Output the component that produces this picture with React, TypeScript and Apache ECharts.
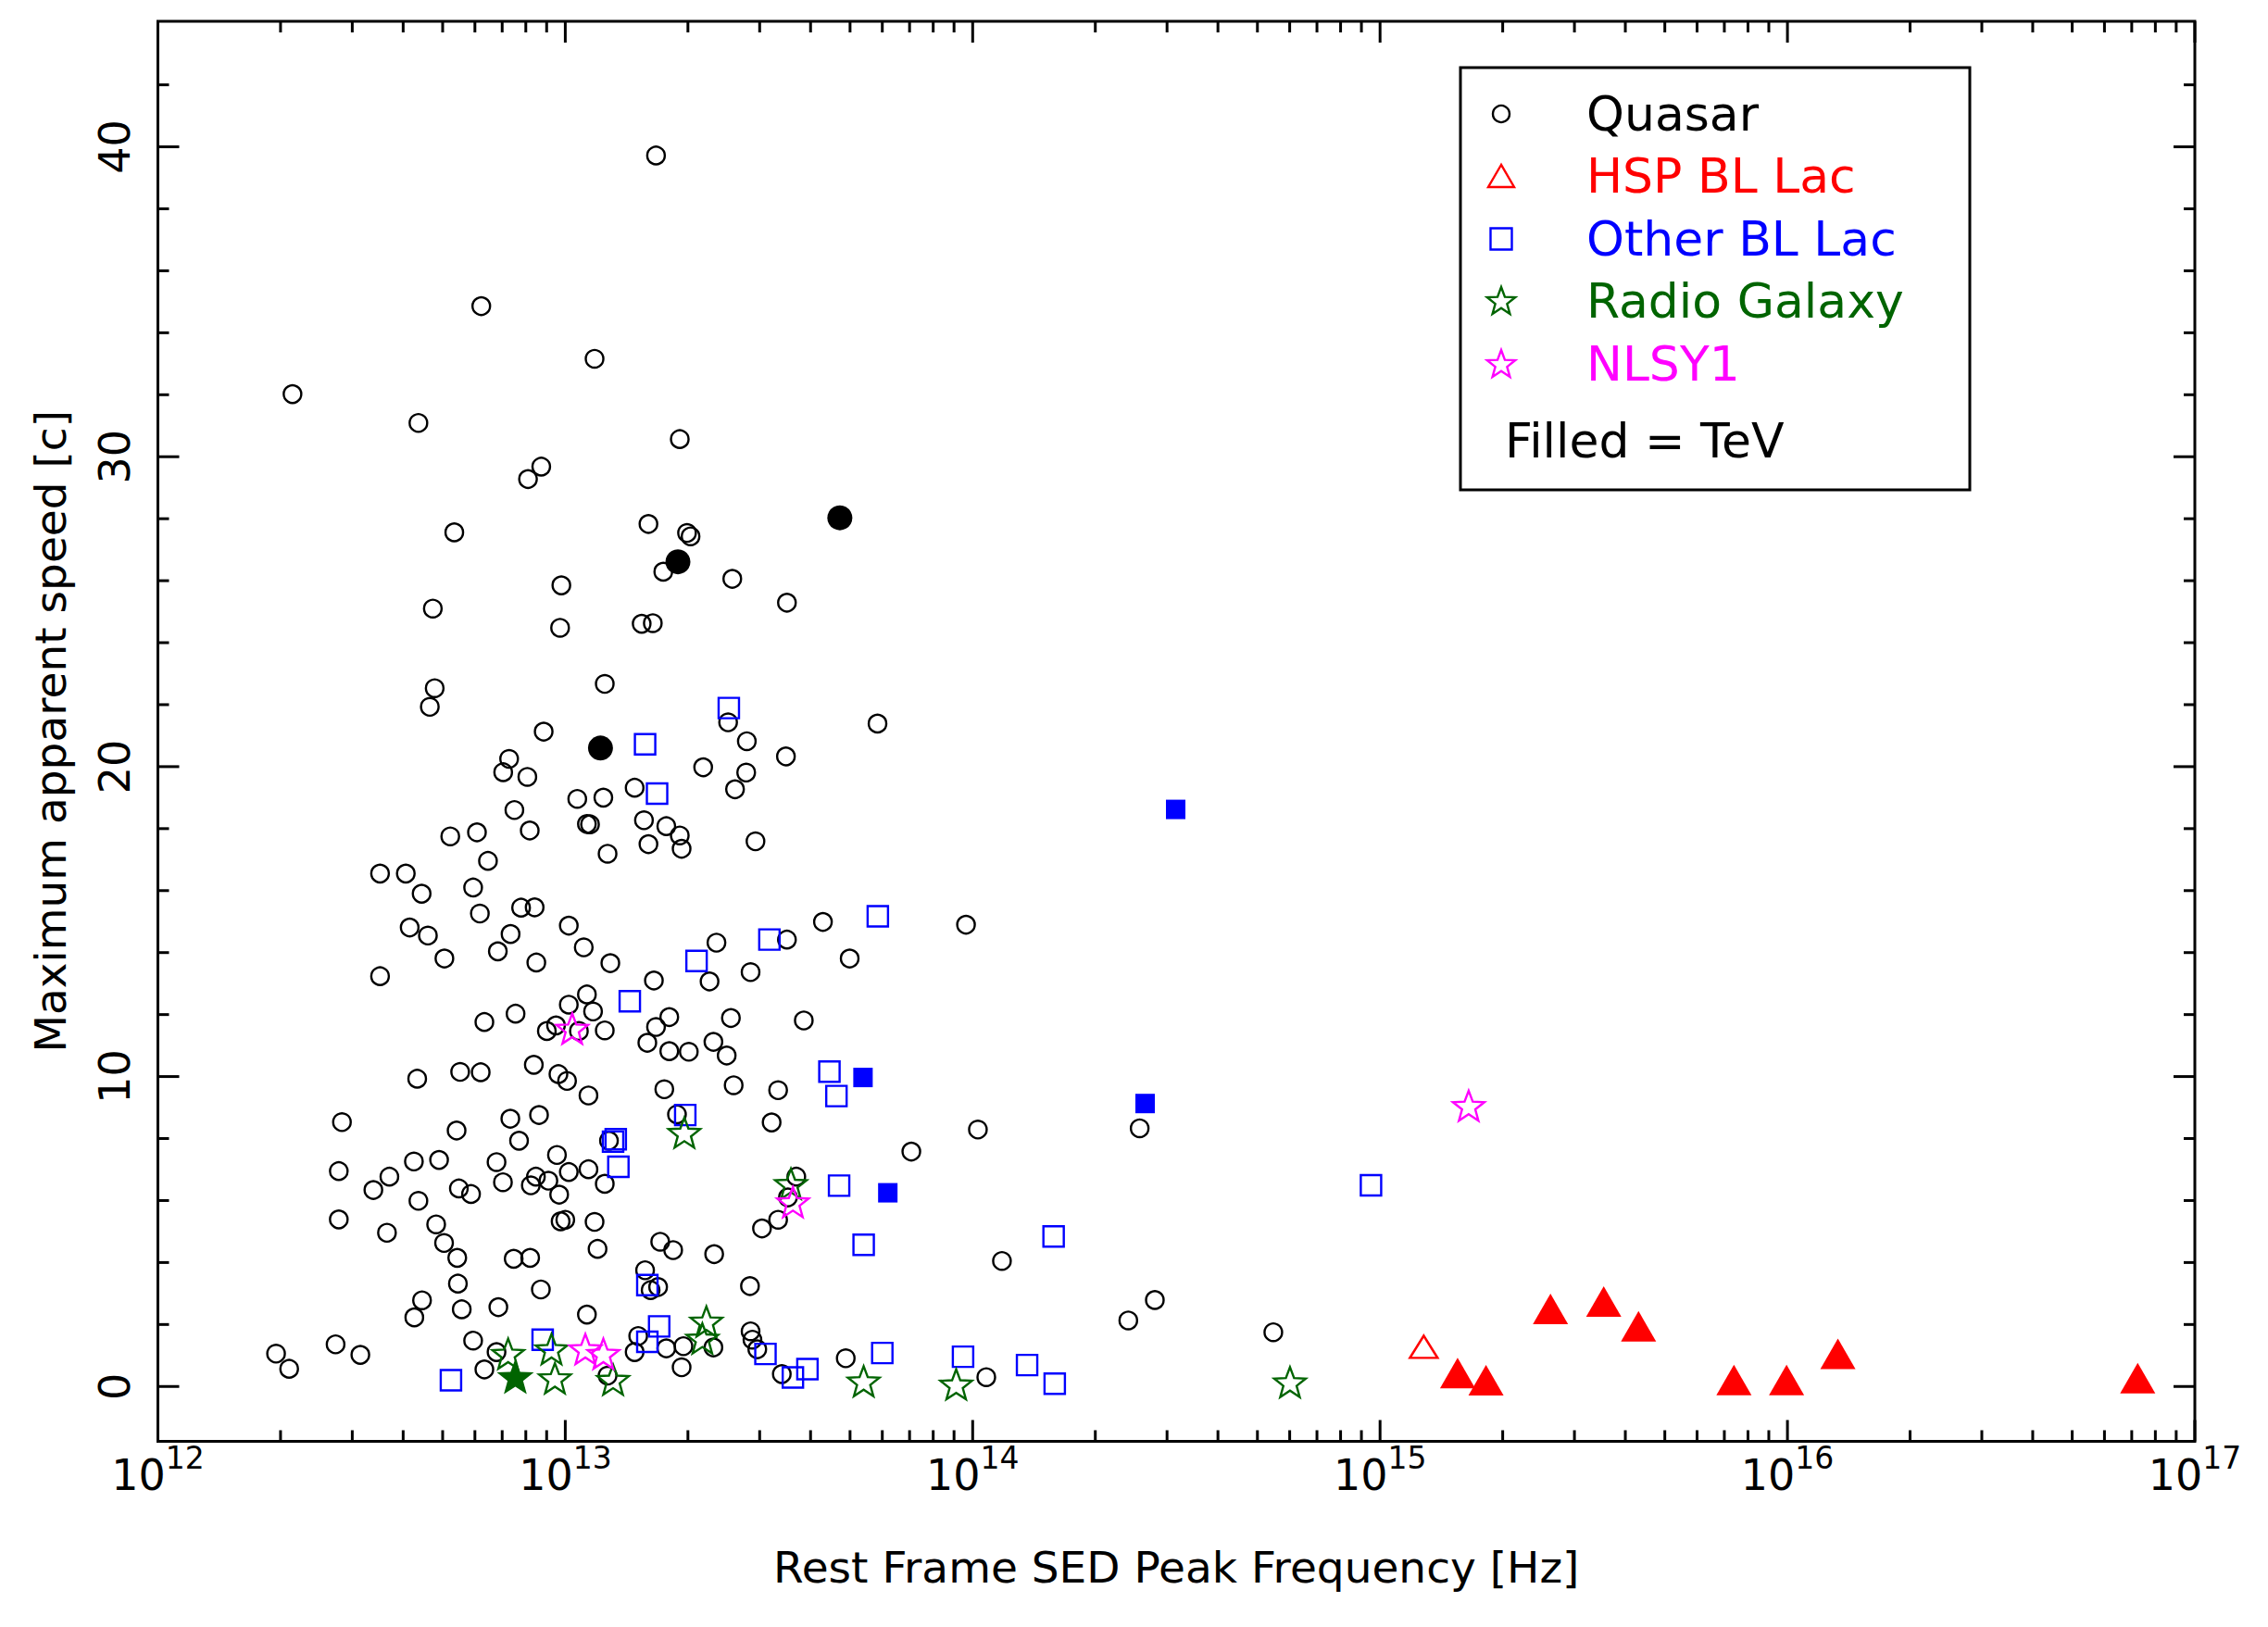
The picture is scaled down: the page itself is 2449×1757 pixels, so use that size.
import React, { useEffect, useRef } from "react";
import * as echarts from "echarts";

const FONT = '"DejaVu Sans", "Liberation Sans", sans-serif';

// ---- axes ----
const xTickExponents = [12, 13, 14, 15, 16, 17];
const xMinorMultipliers = [2, 3, 4, 5, 6, 7, 8, 9];
const yMajorTicks = [0, 10, 20, 30, 40];
const yMinorTicks = [2, 4, 6, 8, 12, 14, 16, 18, 22, 24, 26, 28, 32, 34, 36, 38, 42];
const xMin = 1e12;
const xMax = 1e17;
const yMin = -1.77;
const yMax = 44.05;
const xTitle = "Rest Frame SED Peak Frequency [Hz]";
const yTitle = "Maximum apparent speed [c]";

// ---- legend ----
const legendLabels = ["Quasar", "HSP BL Lac", "Other BL Lac", "Radio Galaxy", "NLSY1"];
const legendColors = ["#000000", "#ff0000", "#0000ff", "#006400", "#ff00ff"];
const legendNote = "Filled = TeV";

// ---- data: [rest-frame SED peak frequency (Hz), max apparent speed (c)] ----
const quasar: [number, number][] = [
  [1.67e13, 39.72], [6.22e12, 34.86], [1.18e13, 33.16], [2.14e12, 32.02], [4.36e12, 31.09],
  [1.91e13, 30.57], [8.73e12, 29.68], [8.10e12, 29.28], [5.34e12, 27.56], [1.60e13, 27.83],
  [1.99e13, 27.54], [2.03e13, 27.43], [1.74e13, 26.29], [2.57e13, 26.06], [3.50e13, 25.29],
  [9.78e12, 25.85], [4.73e12, 25.10], [9.71e12, 24.48], [1.54e13, 24.61], [1.64e13, 24.63],
  [1.25e13, 22.67], [4.78e12, 22.53], [4.65e12, 21.93], [8.85e12, 21.13], [2.18e13, 19.98],
  [7.28e12, 20.25], [7.04e12, 19.82], [8.07e12, 19.67], [1.48e13, 19.32], [1.07e13, 18.96],
  [1.24e13, 19.00], [7.50e12, 18.60], [1.13e13, 18.15], [1.15e13, 18.14], [1.56e13, 18.27],
  [1.77e13, 18.08], [1.91e13, 17.78], [1.93e13, 17.35], [1.60e13, 17.50], [1.27e13, 17.19],
  [8.18e12, 17.94], [6.07e12, 17.88], [5.22e12, 17.75], [6.46e12, 16.96], [3.51e12, 16.55],
  [4.06e12, 16.55], [4.44e12, 15.90], [5.94e12, 16.10], [7.79e12, 15.45], [8.41e12, 15.46],
  [6.17e12, 15.26], [4.15e12, 14.81], [4.60e12, 14.55], [1.02e13, 14.87], [7.34e12, 14.60],
  [1.11e13, 14.17], [6.83e12, 14.04], [5.05e12, 13.81], [8.49e12, 13.68], [1.29e13, 13.66],
  [3.51e12, 13.24], [1.65e13, 13.10], [2.26e13, 13.07],
  [2.51e13, 21.43], [5.84e13, 21.39], [2.79e13, 20.82], [3.48e13, 20.33], [2.78e13, 19.81],
  [2.61e13, 19.27], [2.93e13, 17.59], [9.63e13, 14.90], [4.29e13, 14.99], [3.50e13, 14.42],
  [2.35e13, 14.32], [4.99e13, 13.81], [2.85e13, 13.37],
  [1.13e13, 12.65], [1.02e13, 12.32], [1.17e13, 12.10], [7.55e12, 12.03], [6.33e12, 11.76],
  [9.01e12, 11.47], [9.49e12, 11.65], [1.08e13, 11.47], [1.25e13, 11.49], [1.80e13, 11.92],
  [1.67e13, 11.60], [1.59e13, 11.09], [1.80e13, 10.82], [2.01e13, 10.80], [2.31e13, 11.12],
  [2.49e13, 10.68], [2.55e13, 11.89], [3.85e13, 11.81], [2.59e13, 9.72], [3.33e13, 9.56],
  [3.21e13, 8.52], [8.37e12, 10.38], [9.62e12, 10.08], [1.01e13, 9.86], [1.14e13, 9.39],
  [1.75e13, 9.59], [5.52e12, 10.15], [6.20e12, 10.14], [4.33e12, 9.93], [2.83e12, 8.53],
  [5.41e12, 8.26], [7.33e12, 8.64], [8.62e12, 8.76], [7.70e12, 7.93], [1.28e13, 7.93],
  [1.88e13, 8.78], [9.54e12, 7.47], [1.02e13, 6.92], [1.14e13, 7.01], [1.25e13, 6.54],
  [8.47e12, 6.77], [9.09e12, 6.64], [8.23e12, 6.49], [9.66e12, 6.19], [6.78e12, 7.24],
  [7.03e12, 6.59], [4.25e12, 7.26], [4.90e12, 7.31], [3.70e12, 6.77], [3.38e12, 6.34],
  [2.78e12, 6.95], [5.48e12, 6.39], [5.87e12, 6.21], [4.36e12, 5.99], [2.78e12, 5.39],
  [3.65e12, 4.96], [4.82e12, 5.23], [5.04e12, 4.63], [5.43e12, 4.15], [9.74e12, 5.33],
  [1.00e13, 5.38], [1.18e13, 5.31], [1.20e13, 4.44], [1.71e13, 4.67], [1.84e13, 4.40],
  [7.47e12, 4.12], [8.20e12, 4.15], [5.45e12, 3.32], [8.71e12, 3.13], [1.57e13, 3.75],
  [1.62e13, 3.11], [1.69e13, 3.21], [4.45e12, 2.78], [4.26e12, 2.23], [5.57e12, 2.49],
  [6.85e12, 2.56], [1.13e13, 2.32], [2.73e12, 1.36], [3.14e12, 1.02], [1.95e12, 1.06],
  [2.10e12, 0.57], [5.94e12, 1.48], [6.78e12, 1.11], [6.33e12, 0.55], [1.27e13, 0.35],
  [1.51e13, 1.63], [1.48e13, 1.11], [1.77e13, 1.23], [1.95e13, 1.30], [1.93e13, 0.62],
  [1.03e14, 8.29], [7.07e13, 7.58], [2.57e14, 8.33], [3.69e13, 6.77], [3.52e13, 6.10],
  [3.33e13, 5.38], [3.04e13, 5.10], [1.18e14, 4.05], [2.32e13, 4.27], [2.84e13, 3.24],
  [2.41e14, 2.13], [2.80e14, 2.79], [2.85e13, 1.78], [2.88e13, 1.51], [2.96e13, 1.20],
  [3.40e13, 0.40], [4.88e13, 0.91], [1.08e14, 0.30], [2.31e13, 1.26], [5.47e14, 1.75],
];
const quasarTeV: [number, number][] = [[1.89e13, 26.61], [4.72e13, 28.03], [1.22e13, 20.60]];

const hspBLLac: [number, number][] = [[1.28e15, 1.28]];
const hspBLLacTeV: [number, number][] = [
  [1.55e15, 0.43], [1.82e15, 0.20], [2.62e15, 2.50], [3.54e15, 2.74], [4.31e15, 1.94],
  [7.39e15, 0.21], [9.95e15, 0.21], [1.33e16, 1.05], [7.24e16, 0.27],
];

const otherBLLac: [number, number][] = [
  [1.57e13, 20.72], [1.68e13, 19.13], [2.10e13, 13.73], [2.52e13, 21.89], [5.85e13, 15.17],
  [3.17e13, 14.42], [1.44e13, 12.43], [1.31e13, 7.90], [1.33e13, 7.98], [1.97e13, 8.76],
  [1.35e13, 7.09], [1.59e13, 3.27], [5.24e12, 0.20], [8.80e12, 1.51], [1.70e13, 1.94],
  [1.59e13, 1.44], [4.45e13, 10.16], [4.63e13, 9.37], [4.70e13, 6.48], [5.40e13, 4.57],
  [1.58e14, 4.84], [3.10e13, 1.05], [3.62e13, 0.29], [3.93e13, 0.56], [6.00e13, 1.08],
  [9.47e13, 0.96], [1.36e14, 0.69], [1.59e14, 0.09], [9.50e14, 6.49],
];
const otherBLLacTeV: [number, number][] = [[5.38e13, 9.97], [6.19e13, 6.25], [2.65e14, 9.13], [3.15e14, 18.62]];

const radioGalaxy: [number, number][] = [
  [7.24e12, 1.06], [9.43e12, 0.27], [9.25e12, 1.21], [1.31e13, 0.22], [1.96e13, 8.19],
  [2.22e13, 2.10], [2.17e13, 1.55], [3.58e13, 6.54], [5.40e13, 0.17], [9.11e13, 0.07],
  [6.01e14, 0.14],
];
const radioGalaxyTeV: [number, number][] = [[7.54e12, 0.32]];

const nlsy1: [number, number][] = [[1.04e13, 11.55], [1.12e13, 1.21], [1.24e13, 1.06], [3.62e13, 5.95], [1.65e15, 9.06]];

// ---- helpers ----
function starPoints(cx: number, cy: number, R: number, r: number): number[][] {
  const pts: number[][] = [];
  for (let i = 0; i < 10; i++) {
    const a = -Math.PI / 2 + (i * Math.PI) / 5;
    const rad = i % 2 === 0 ? R : r;
    pts.push([cx + rad * Math.cos(a), cy + rad * Math.sin(a)]);
  }
  return pts;
}
const STAR_PATH =
  "path://" +
  starPoints(0, 0, 10, 4.2)
    .map((p, i) => (i ? "L" : "M") + p[0].toFixed(3) + " " + p[1].toFixed(3))
    .join(" ") +
  " Z";

function scatter(name: string, data: [number, number][], symbol: string, size: any, color: string, filled: boolean, z: number) {
  return {
    type: "scatter",
    name,
    data,
    symbol,
    symbolSize: size,
    symbolKeepAspect: true,
    z,
    silent: true,
    itemStyle: filled
      ? { color, borderColor: color, borderWidth: 0, opacity: 1 }
      : { color: "rgba(0,0,0,0)", borderColor: color, borderWidth: 2.4, opacity: 1 },
    emphasis: { disabled: true },
  };
}

function buildOption() {
  const tickData: number[][] = [];
  xTickExponents.forEach((e) => tickData.push([Math.pow(10, e), 0, 0, 1]));
  xTickExponents.slice(0, -1).forEach((e) =>
    xMinorMultipliers.forEach((m) => tickData.push([m * Math.pow(10, e), 0, 0, 0]))
  );
  yMajorTicks.forEach((v) => tickData.push([1e13, v, 1, 1]));
  yMinorTicks.forEach((v) => tickData.push([1e13, v, 1, 0]));

  const lx = 1621;
  const rows = [123, 190, 258, 325, 393];
  const tx = 1713;
  const lw = 2.4;

  const graphic: any[] = [
    {
      type: "rect",
      z: 100,
      shape: { x: 1577, y: 73, width: 550, height: 456 },
      style: { fill: "#ffffff", stroke: "#000", lineWidth: 3 },
    },
    { type: "circle", z: 101, shape: { cx: lx, cy: rows[0], r: 9 }, style: { fill: "none", stroke: legendColors[0], lineWidth: lw } },
    {
      type: "polygon",
      z: 101,
      shape: { points: [[lx, rows[1] - 12], [lx - 14, rows[1] + 12], [lx + 14, rows[1] + 12]] },
      style: { fill: "none", stroke: legendColors[1], lineWidth: lw },
    },
    { type: "rect", z: 101, shape: { x: lx - 11.5, y: rows[2] - 11.5, width: 23, height: 23 }, style: { fill: "none", stroke: legendColors[2], lineWidth: lw } },
    { type: "polygon", z: 101, shape: { points: starPoints(lx, rows[3] + 1, 16, 6.7) }, style: { fill: "none", stroke: legendColors[3], lineWidth: lw } },
    { type: "polygon", z: 101, shape: { points: starPoints(lx, rows[4] + 1, 16, 6.7) }, style: { fill: "none", stroke: legendColors[4], lineWidth: lw } },
    ...legendLabels.map((t, i) => ({
      type: "text",
      z: 101,
      x: tx,
      y: rows[i],
      style: { text: t, fill: legendColors[i], fontSize: 52, fontFamily: FONT, verticalAlign: "middle", align: "left" },
    })),
    {
      type: "text",
      z: 101,
      x: 1625,
      y: 476,
      style: { text: legendNote, fill: "#000", fontSize: 52, fontFamily: FONT, verticalAlign: "middle", align: "left" },
    },
  ];

  return {
    animation: false,
    backgroundColor: "#ffffff",
    grid: {
      left: 170.5,
      top: 23,
      right: 79,
      bottom: 200.5,
      show: true,
      borderColor: "#000",
      borderWidth: 3,
      backgroundColor: "transparent",
    },
    xAxis: {
      type: "log",
      logBase: 10,
      min: xMin,
      max: xMax,
      name: xTitle,
      nameLocation: "middle",
      nameGap: 112,
      nameTextStyle: { fontSize: 47, fontFamily: FONT, color: "#000" },
      axisLine: { show: false },
      axisTick: { show: false },
      minorTick: { show: false },
      splitLine: { show: false },
      axisLabel: {
        show: true,
        interval: 0,
        margin: 1,
        showMinLabel: true,
        showMaxLabel: true,
        formatter: (v: number) => "{base|10}{sup|" + Math.round(Math.log10(v)) + "}",
        rich: {
          base: { fontSize: 46, fontFamily: FONT, color: "#000", lineHeight: 58, verticalAlign: "bottom" },
          sup: { fontSize: 33, fontFamily: FONT, color: "#000", lineHeight: 33, verticalAlign: "top" },
        },
      },
    },
    yAxis: {
      type: "value",
      min: yMin,
      max: yMax,
      splitNumber: 5,
      name: yTitle,
      nameLocation: "middle",
      nameRotate: 90,
      nameGap: 93,
      nameTextStyle: { fontSize: 47, fontFamily: FONT, color: "#000" },
      axisLine: { show: false },
      axisTick: { show: false },
      splitLine: { show: false },
      axisLabel: {
        rotate: 90,
        margin: 24,
        fontSize: 46,
        fontFamily: FONT,
        color: "#000",
        formatter: (v: number) => (yMajorTicks.some((t) => Math.abs(t - v) < 1e-6) ? String(Math.round(v)) : ""),
      },
    },
    graphic,
    series: [
      {
        type: "custom",
        name: "ticks",
        silent: true,
        clip: false,
        z: 20,
        data: tickData,
        encode: { x: 0, y: 1 },
        renderItem: (params: any, api: any) => {
          const cs = params.coordSys;
          const kind = api.value(2);
          const major = api.value(3);
          const len = major ? 23 : 12;
          const style = { stroke: "#000", lineWidth: 3 };
          const p = api.coord([api.value(0), api.value(1)]);
          if (kind === 0) {
            const x = p[0];
            const top = cs.y;
            const bottom = cs.y + cs.height;
            return {
              type: "group",
              children: [
                { type: "line", shape: { x1: x, y1: bottom, x2: x, y2: bottom - len }, style },
                { type: "line", shape: { x1: x, y1: top, x2: x, y2: top + len }, style },
              ],
            };
          }
          const y = p[1];
          const left = cs.x;
          const right = cs.x + cs.width;
          return {
            type: "group",
            children: [
              { type: "line", shape: { x1: left, y1: y, x2: left + len, y2: y }, style },
              { type: "line", shape: { x1: right, y1: y, x2: right - len, y2: y }, style },
            ],
          };
        },
      },
      scatter("Quasar", quasar, "circle", 19, "#000000", false, 2),
      scatter("Quasar (TeV)", quasarTeV, "circle", 27, "#000000", true, 3),
      scatter("Other BL Lac", otherBLLac, "rect", 22, "#0000ff", false, 4),
      scatter("Other BL Lac (TeV)", otherBLLacTeV, "rect", 21, "#0000ff", true, 5),
      scatter("Radio Galaxy", radioGalaxy, STAR_PATH, 34, "#006400", false, 6),
      scatter("Radio Galaxy (TeV)", radioGalaxyTeV, STAR_PATH, 40, "#006400", true, 7),
      scatter("NLSY1", nlsy1, STAR_PATH, 34, "#ff00ff", false, 8),
      scatter("HSP BL Lac", hspBLLac, "triangle", [30, 24], "#ff0000", false, 9),
      scatter("HSP BL Lac (TeV)", hspBLLacTeV, "triangle", [38, 33], "#ff0000", true, 10),
    ],
  };
}

export default function App() {
  const ref = useRef<HTMLDivElement>(null);
  useEffect(() => {
    if (!ref.current) return;
    const chart = echarts.init(ref.current, null, { renderer: "svg" });
    chart.setOption(buildOption() as any);
    return () => chart.dispose();
  }, []);
  return (
    <div
      ref={ref}
      style={{ position: "absolute", left: 0, top: 0, width: 2449, height: 1757, background: "#ffffff" }}
    />
  );
}
